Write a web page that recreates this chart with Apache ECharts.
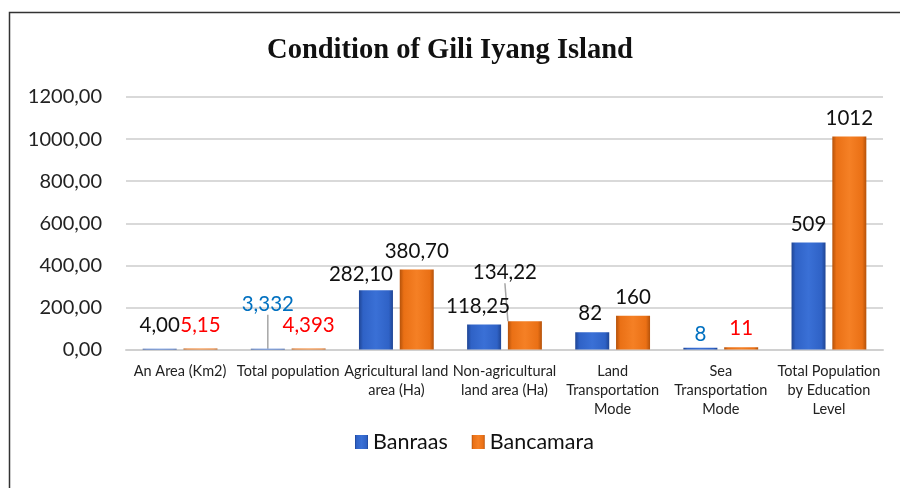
<!DOCTYPE html>
<html><head><meta charset="utf-8">
<script src="https://cdn.jsdelivr.net/npm/echarts@6/dist/echarts.min.js"></script>
<style>html,body{margin:0;padding:0;background:#fff}#c{width:900px;height:488px}</style>
</head><body><div id="c"></div>
<script>
// ---- data ----
const categories = ['An Area (Km2)', 'Total population', 'Agricultural land\narea (Ha)', 'Non-agricultural\nland area (Ha)', 'Land\nTransportation\nMode', 'Sea\nTransportation\nMode', 'Total Population\nby Education\nLevel'];
const seriesNames = ['Banraas', 'Bancamara'];
const banraas = [4.00, 3.332, 282.10, 118.25, 82, 8, 509];
const bancamara = [5.15, 4.393, 380.70, 134.22, 160, 11, 1012];
const labelDecimals = [2, 3, 2, 2, 0, 0, 0];
const yMin = 0, yMax = 1200, yStep = 200;
const yTickDecimals = 2;

// ---- styling ----
const BLUE_TXT = '#0070c0', RED_TXT = '#ff0000', BLK = '#111';
const labelColors = [
  [BLK, BLUE_TXT, BLK, BLK, BLK, BLUE_TXT, BLK],
  [RED_TXT, RED_TXT, BLK, BLK, BLK, RED_TXT, BLK]
];
// label nudges [dx, dy] per series / category
const labelNudge = [
  [[0, -5], [0, -26], [-15, 3], [-6, 0], [-2, 0], [0, 5], [0, 0]],
  [[0, -5], [0, -5], [0, 0], [-20, -30], [0, 0], [0, 0], [0, 0]]
];
const leader = [[false, true, false, false, false, false, false], [false, false, false, true, false, false, false]];

function grad(c0, c1, c2) {
  return {type: 'linear', x: 0, y: 0, x2: 1, y2: 0, colorStops: [
    {offset: 0, color: c0}, {offset: 0.12, color: c1}, {offset: 0.5, color: c2},
    {offset: 0.88, color: c1}, {offset: 1, color: c0}]};
}
const fills = [grad('#1f4594', '#2f62c6', '#3a70d6'), grad('#b5520a', '#ea7015', '#f58025')];
const LABEL_FONT = 'Lato';

function fmt(v, d) { return v.toFixed(d).replace('.', ','); }

const values = [banraas, bancamara];
const series = values.map((arr, si) => ({
  name: seriesNames[si],
  type: 'bar',
  barWidth: 34,
  barGap: '20%',
  itemStyle: {color: fills[si]},
  label: {
    show: true, position: 'top', distance: 8,
    fontFamily: LABEL_FONT, fontSize: 20.5,
    formatter: p => fmt(p.value, labelDecimals[p.dataIndex])
  },
  labelLine: {show: false, lineStyle: {color: '#a6a6a6', width: 1.5}},
  labelLayout: p => ({dx: labelNudge[si][p.dataIndex][0], dy: labelNudge[si][p.dataIndex][1]}),
  data: arr.map((v, i) => ({
    value: v,
    label: {color: labelColors[si][i]},
    labelLine: {show: leader[si][i], lineStyle: {color: '#a6a6a6', width: 1.5}}
  }))
}));

const chart = echarts.init(document.getElementById('c'), null, {renderer: 'canvas'});
chart.setOption({
  animation: false,
  backgroundColor: '#fff',
  title: {
    text: 'Condition of Gili Iyang Island', left: 'center', top: 31,
    textStyle: {fontFamily: 'Liberation Serif', fontWeight: 'bold', fontSize: 28.5, color: '#111'}
  },
  legend: {
    data: seriesNames, bottom: 30, left: 350, icon: 'rect',
    itemWidth: 13, itemHeight: 14, itemGap: 24,
    textStyle: {fontFamily: LABEL_FONT, fontSize: 21.5, color: '#111'}
  },
  grid: {left: 126, right: 17, top: 97, bottom: 138.5, containLabel: false},
  xAxis: {
    type: 'category', data: categories,
    axisLine: {show: true, lineStyle: {color: '#d0d0d0', width: 2}},
    axisTick: {show: false},
    axisLabel: {interval: 0, margin: 12, fontFamily: LABEL_FONT, fontSize: 14.5, lineHeight: 19, color: '#222'}
  },
  yAxis: {
    type: 'value', min: yMin, max: yMax, interval: yStep,
    axisLine: {show: false}, axisTick: {show: false},
    axisLabel: {margin: 24, fontFamily: LABEL_FONT, fontSize: 20, color: '#222',
      formatter: v => fmt(v, yTickDecimals)},
    splitLine: {lineStyle: {color: '#d9d9d9', width: 2}}
  },
  series: series,
  graphic: [{
    type: 'polyline', silent: true,
    shape: {points: [[9.5, 488], [9.5, 12.5], [900, 12.5]]},
    style: {stroke: '#333', lineWidth: 1.5, fill: null}
  }]
});
</script></body></html>
